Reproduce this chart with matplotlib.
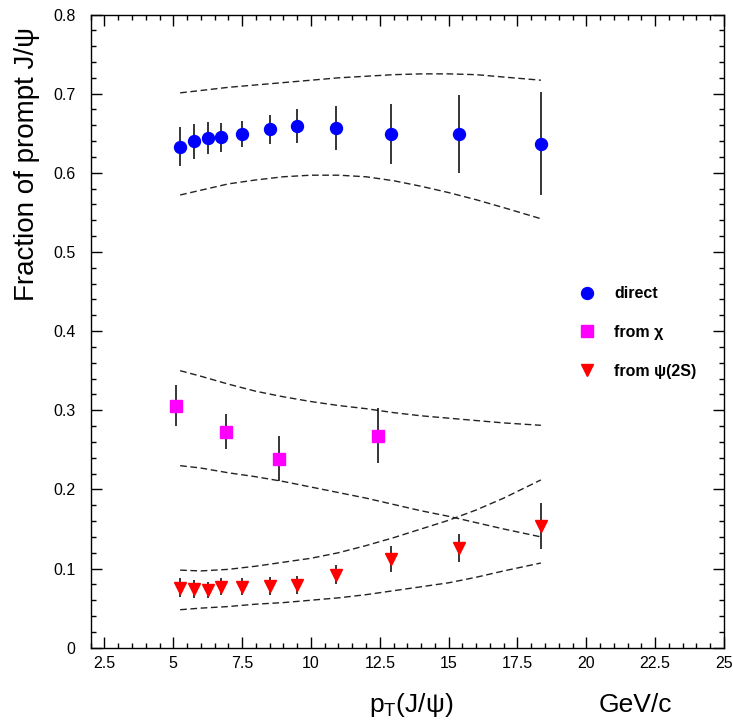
import numpy as np
import matplotlib.pyplot as plt
from matplotlib.lines import Line2D
from matplotlib.ticker import MultipleLocator

plt.rcParams['font.family'] = ['Liberation Sans', 'DejaVu Sans']
plt.rcParams['mathtext.fontset'] = 'custom'
plt.rcParams['mathtext.rm'] = 'Liberation Sans'

# measured points
pt = [5.25, 5.75, 6.25, 6.75, 7.5, 8.5, 9.5, 10.9, 12.9, 15.37, 18.37]
direct = [0.633, 0.640, 0.644, 0.645, 0.649, 0.655, 0.659, 0.657, 0.649, 0.649, 0.637]
direct_err = [0.025, 0.022, 0.020, 0.0185, 0.017, 0.018, 0.021, 0.028, 0.038, 0.049, 0.065]
psi2s = [0.076, 0.074, 0.073, 0.077, 0.077, 0.078, 0.079, 0.092, 0.112, 0.126, 0.154]
psi2s_err = [0.012, 0.011, 0.010, 0.011, 0.011, 0.011, 0.011, 0.012, 0.016, 0.018, 0.029]

pt_chi = [5.1, 6.9, 8.85, 12.43]
chi = [0.306, 0.273, 0.239, 0.268]
chi_err = [0.026, 0.022, 0.029, 0.035]

# model bands (dashed)
pt_band = [5.25, 6, 7, 8, 9, 10, 11, 12, 13, 14, 15, 16, 17, 18.35]
direct_hi = [0.701, 0.704, 0.708, 0.711, 0.714, 0.717, 0.720, 0.722, 0.724, 0.725, 0.725, 0.724, 0.721, 0.717]
direct_lo = [0.572, 0.578, 0.586, 0.591, 0.595, 0.597, 0.597, 0.595, 0.590, 0.583, 0.575, 0.566, 0.556, 0.542]
chi_hi = [0.350, 0.343, 0.333, 0.324, 0.317, 0.311, 0.306, 0.302, 0.297, 0.293, 0.290, 0.287, 0.284, 0.281]
chi_lo = [0.230, 0.227, 0.221, 0.216, 0.210, 0.203, 0.196, 0.189, 0.181, 0.173, 0.166, 0.158, 0.150, 0.140]
psi_hi = [0.098, 0.097, 0.099, 0.103, 0.108, 0.113, 0.120, 0.129, 0.139, 0.150, 0.161, 0.174, 0.189, 0.212]
psi_lo = [0.048, 0.050, 0.052, 0.055, 0.057, 0.060, 0.063, 0.067, 0.072, 0.077, 0.082, 0.089, 0.097, 0.107]

fig = plt.figure(figsize=(7.33, 7.22), dpi=100)
ax = fig.add_axes([0.1237, 0.1029, 0.9877 - 0.1237, 0.9799 - 0.1029])

for band in [direct_hi, direct_lo, chi_hi, chi_lo, psi_hi, psi_lo]:
    ax.plot(pt_band, band, color='#222222', lw=1.0, dashes=(4.8, 2.6))

ms = 8.6
ax.errorbar(pt, direct, yerr=direct_err, fmt='o', color='blue', ms=ms, mec='blue',
            ecolor='black', elinewidth=1.1, capsize=0)
ax.errorbar(pt_chi, chi, yerr=chi_err, fmt='s', color='magenta', ms=ms, mec='magenta',
            ecolor='black', elinewidth=1.1, capsize=0)
ax.errorbar(pt, psi2s, yerr=psi2s_err, fmt='v', color='red', ms=ms, mec='red',
            ecolor='black', elinewidth=1.1, capsize=0)

ax.set_xlim(2, 25)
ax.set_ylim(0, 0.8)
ax.xaxis.set_minor_locator(MultipleLocator(0.5))
ax.yaxis.set_minor_locator(MultipleLocator(0.02))
ax.set_xticks([2.5, 5, 7.5, 10, 12.5, 15, 17.5, 20, 22.5, 25])
ax.set_xticklabels(['2.5', '5', '7.5', '10', '12.5', '15', '17.5', '20', '22.5', '25'])
ax.set_yticks([0, 0.1, 0.2, 0.3, 0.4, 0.5, 0.6, 0.7, 0.8])
ax.set_yticklabels(['0', '0.1', '0.2', '0.3', '0.4', '0.5', '0.6', '0.7', '0.8'])
ax.tick_params(which='both', direction='in', top=True, right=True, width=1)
ax.tick_params(which='major', length=8, labelsize=11.5)
ax.tick_params(which='minor', length=3.8)
ax.tick_params(axis='x', pad=6)
ax.tick_params(axis='y', pad=11)
for s in ax.spines.values():
    s.set_linewidth(1)

handles = [
    Line2D([], [], ls='none', marker='o', color='blue', ms=ms),
    Line2D([], [], ls='none', marker='s', color='magenta', ms=ms),
    Line2D([], [], ls='none', marker='v', color='red', ms=ms),
]
ax.legend(handles, ['direct', 'from χ', 'from ψ(2S)'], loc='upper left',
          bbox_to_anchor=(0.771, 0.5707), frameon=False, borderpad=0, borderaxespad=0,
          handlelength=1.0, handletextpad=1.2, labelspacing=1.48,
          prop={'weight': 'bold', 'size': 11.5})

fig.text(27 / 733, 1 - 27 / 722, 'Fraction of prompt J/ψ', rotation=90,
         ha='center', va='top', fontsize=20)
fig.text(411 / 733, 1 - 712 / 722, r'p$_{\mathregular{T}}$(J/ψ)', ha='center',
         va='baseline', fontsize=19)
fig.text(635 / 733, 1 - 712 / 722, 'GeV/c', ha='center', va='baseline', fontsize=19)

plt.savefig('out.png', dpi=100)
